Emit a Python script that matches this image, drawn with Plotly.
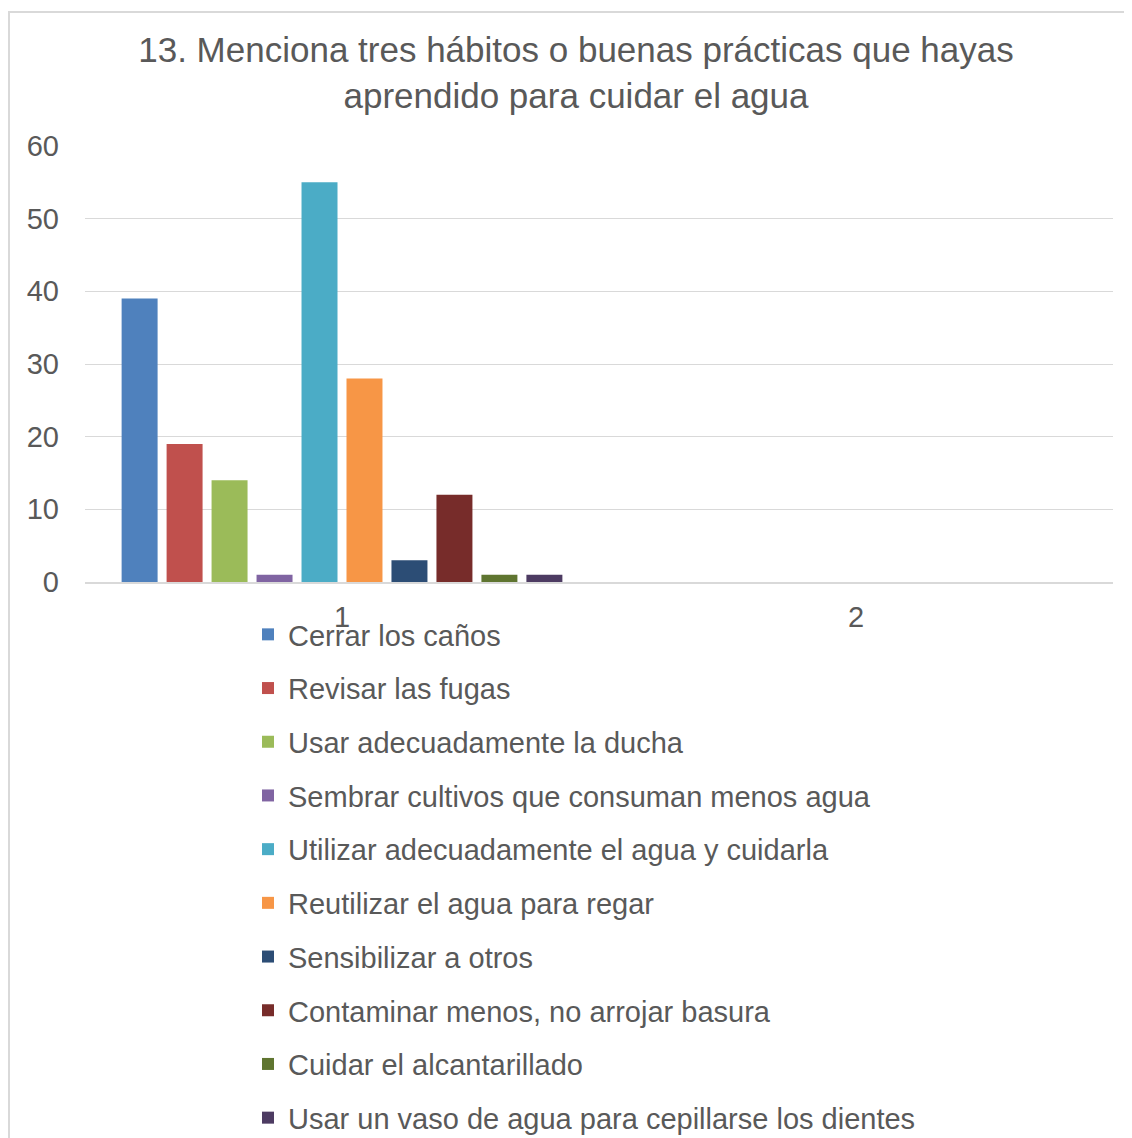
import plotly.graph_objects as go

categories = ["1", "2"]
series_names = [
    "Cerrar los caños",
    "Revisar las fugas",
    "Usar adecuadamente la ducha",
    "Sembrar cultivos que consuman menos agua",
    "Utilizar adecuadamente el agua y cuidarla",
    "Reutilizar el agua para regar",
    "Sensibilizar a otros",
    "Contaminar menos, no arrojar basura",
    "Cuidar el alcantarillado",
    "Usar un vaso de agua para cepillarse los dientes",
]
values_cat1 = [39, 19, 14, 1, 55, 28, 3, 12, 1, 1]
colors = ["#4F81BD", "#C0504D", "#9BBB59", "#8064A2", "#4BACC6",
          "#F79646", "#2C4D75", "#772C2A", "#5F7530", "#4D3B62"]
y_ticks = [0, 10, 20, 30, 40, 50, 60]

FONT = "Liberation Sans, Arial, sans-serif"
GREY = "#595959"
W, H = 1132, 1138

fig = go.Figure()
for i, (name, val) in enumerate(zip(series_names, values_cat1)):
    fig.add_trace(go.Bar(
        x=categories,
        y=[val, None],
        name=name,
        marker=dict(color=colors[i], line=dict(width=0)),
        legendgroup=f"g{i}",
    ))

# page body has an 8px margin, so everything is placed 8px up/left
fig.update_layout(
    width=W,
    height=H,
    paper_bgcolor="white",
    plot_bgcolor="white",
    font=dict(family=FONT, color=GREY, size=29),
    title=dict(
        text="13. Menciona tres hábitos o buenas prácticas que hayas<br>aprendido para cuidar el agua",
        x=568 / W, xanchor="center", yref="container", y=1 - 54 / H, yanchor="top",
        font=dict(family=FONT, size=35, color=GREY),
    ),
    margin=dict(l=77, r=27, t=138, b=564, autoexpand=False),
    barmode="group",
    bargap=0.125,
    bargroupgap=0.2,
    xaxis=dict(
        type="category",
        categoryarray=categories,
        showline=True, linecolor="#d9d9d9", linewidth=2,
        ticks="", tickfont=dict(size=29, color=GREY),
        ticklabelstandoff=8,
        showgrid=False,
    ),
    yaxis=dict(
        range=[0, 60], tickvals=y_ticks,
        showgrid=True, gridcolor="#d9d9d9", gridwidth=1,
        zeroline=False, showline=False,
        tickfont=dict(size=29, color=GREY),
        ticks="", ticklabelstandoff=25,
    ),
    legend=dict(
        orientation="v",
        xref="container", x=240 / W, xanchor="left",
        yref="container", y=1 - 601 / H, yanchor="top",
        traceorder="grouped",
        tracegroupgap=13,
        font=dict(size=29, color=GREY),
        bgcolor="rgba(0,0,0,0)",
    ),
    shapes=[dict(
        type="rect", xref="paper", yref="paper",
        x0=(1 - 77) / 1028, x1=(1145 - 77) / 1028,
        y0=(574 - 1150) / 436, y1=(574 - 4) / 436,
        line=dict(color="#d9d9d9", width=2), layer="below",
    )],
)

fig.write_html("out.html")
